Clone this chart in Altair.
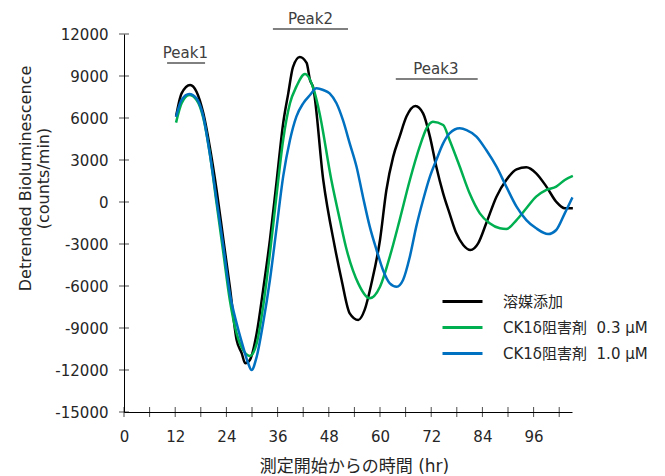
import altair as alt
import pandas as pd

# ---- data ----
t_black = [12.2, 13.5, 15.5, 17.0, 18.6, 20.1, 21.7, 23.3, 24.8, 26.4, 27.6, 28.4, 29.5, 31.1, 32.6, 34.2,
           35.8, 37.3, 38.5, 39.6, 41.2, 42.8, 43.6, 44.3, 46.7, 49.4, 51.0, 52.9, 54.9, 56.4, 58.0, 60.0,
           61.5, 63.1, 64.6, 66.2, 68.3, 70.1, 71.7, 73.2, 74.8, 76.3, 77.9, 79.5, 81.2, 83.0, 84.9, 87.3,
           89.6, 92.0, 94.3, 96.6, 99.0, 101.3, 103.3, 105.2]
v_black = [6100, 7760, 8360, 7880, 6330, 3950, 860, -2710, -6050, -9860, -10810, -11520, -11290, -9380, -6290, -2710,
           1570, 5620, 7760, 9640, 10360, 9930, 8710, 8220, 1570, -3190, -5570, -7950, -8430, -7710, -5810, -2710,
           860, 3240, 4670, 6100, 6860, 6330, 4670, 2520, 620, -810, -2240, -3070, -3430, -2950, -1520, 380,
           1570, 2330, 2480, 2050, 1100, 20, -450, -450]

t_green = [12.2, 13.5, 15.3, 17.0, 18.6, 20.1, 21.7, 23.3, 24.8, 26.4, 27.9, 29.5, 31.1, 32.6, 34.2, 35.8,
           37.3, 38.9, 40.4, 42.4, 44.7, 45.8, 48.6, 50.6, 52.2, 54.9, 57.6, 60.0, 62.3, 64.6, 67.0, 69.3,
           70.9, 72.4, 74.8, 76.3, 78.7, 81.0, 83.4, 85.7, 88.1, 89.6, 92.0, 94.3, 96.6, 99.0, 101.3, 103.3, 105.2]
v_green = [5670, 7050, 7640, 7290, 5980, 3480, -100, -3670, -7000, -9380, -10570, -11000, -10100, -7480, -3670, 620,
           4430, 7050, 8240, 9140, 7790, 6400, 1570, -1290, -3430, -5810, -6880, -6050, -3900, -1290, 1570, 3950,
           5260, 5740, 5500, 4430, 2520, 620, -810, -1520, -1880, -1930, -1290, -450, 380, 860, 1100, 1570, 1860]

t_blue = [12.2, 13.5, 15.3, 17.0, 18.6, 20.1, 21.7, 23.3, 24.8, 26.4, 27.9, 29.1, 29.9, 31.1, 32.6, 34.2,
          35.8, 37.3, 38.9, 40.4, 42.0, 43.6, 45.1, 46.7, 48.2, 49.8, 51.3, 52.9, 54.5, 56.0, 57.6, 59.2,
          60.7, 62.3, 63.9, 65.4, 67.0, 68.5, 70.1, 71.7, 73.2, 74.8, 76.3, 78.7, 80.3, 82.6, 84.9, 87.3,
          89.6, 92.0, 94.3, 96.6, 99.4, 101.3, 103.3, 105.1]
v_blue = [6090, 7290, 7710, 7400, 6100, 3480, 140, -3190, -6520, -8670, -10330, -11520, -12000, -11050, -8670, -5570,
          -1760, 1810, 4430, 6100, 7050, 7640, 8120, 8000, 7760, 7050, 5860, 4190, 2520, 380, -1760, -3430,
          -4860, -5810, -6050, -5570, -3900, -1760, 140, 1810, 3000, 4190, 4900, 5260, 5140, 4670, 3710, 2520,
          1100, -330, -1290, -1880, -2290, -2000, -810, 330]

series_names = ["溶媒添加", "CK1δ阻害剤\u00a0\u00a00.3 μM", "CK1δ阻害剤\u00a0\u00a01.0 μM"]
series_colors = ["#000000", "#00B050", "#0070C0"]

x_tick_values = list(range(0, 103, 6))
x_label_values = list(range(0, 97, 12))
y_tick_values = list(range(-15000, 12001, 3000))

peak_labels = ["Peak1", "Peak2", "Peak3"]
peak_x1 = [10.1, 34.9, 63.7]
peak_x2 = [19.0, 52.5, 82.9]
peak_line_y = [9930, 12360, 8790]
peak_text_x = [14.4, 43.7, 73.1]
peak_text_y = [10640, 13070, 9500]

# ---- tables ----
rows = []
for name, ts, vs in zip(series_names, [t_black, t_green, t_blue], [v_black, v_green, v_blue]):
    for t, v in zip(ts, vs):
        rows.append({"t": t, "v": v, "series": name})
df = pd.DataFrame(rows)
peaks = pd.DataFrame({"label": peak_labels, "x1": peak_x1, "x2": peak_x2, "ly": peak_line_y,
                      "tx": peak_text_x, "ty": peak_text_y})
xt = pd.DataFrame({"t": x_tick_values})
yt = pd.DataFrame({"v": y_tick_values})

FONT = "DejaVu Sans, Noto Sans CJK JP"
xscale = alt.Scale(domain=[0, 105], nice=False, zero=False)
yscale = alt.Scale(domain=[-15000, 12000], nice=False, zero=False)

xaxis = alt.Axis(values=x_label_values, title="測定開始からの時間 (hr)", titleX=230, titleY=54,
                 titleBaseline="middle", labelPadding=17, labelFlush=False)
yaxis = alt.Axis(values=y_tick_values, labelExpr="'' + datum.value",
                 title=["Detrended Bioluminescence", "(counts/min)"],
                 titleX=-99, titleY=144, titleBaseline="middle", titleAlign="center",
                 titleLineHeight=18, labelPadding=16, labelFlush=False)

lines = alt.Chart(df).mark_line(strokeWidth=2.5, interpolate="monotone").encode(
    x=alt.X("t:Q", scale=xscale, axis=xaxis),
    y=alt.Y("v:Q", scale=yscale, axis=yaxis),
    color=alt.Color("series:N", scale=alt.Scale(domain=series_names, range=series_colors),
                    legend=alt.Legend(title=None, orient="none", legendX=327, legendY=256,
                                      symbolType="M-2,0L2,0", symbolSize=400, symbolStrokeWidth=3,
                                      labelFont=FONT, labelFontSize=15, labelColor="#262626",
                                      labelOffset=29, rowPadding=6, padding=0)),
    order=alt.Order("t:Q"),
)

xticks = alt.Chart(xt).mark_tick(orient="vertical", size=10, thickness=1, color="black").encode(
    x=alt.X("t:Q", scale=xscale, axis=xaxis), y=alt.value(378))
yticks = alt.Chart(yt).mark_tick(orient="horizontal", size=10, thickness=1, color="black").encode(
    y=alt.Y("v:Q", scale=yscale, axis=yaxis), x=alt.value(0))

peak_rules = alt.Chart(peaks).mark_rule(color="#808080", strokeWidth=2).encode(
    x=alt.X("x1:Q", scale=xscale, axis=xaxis), x2="x2:Q", y=alt.Y("ly:Q", scale=yscale, axis=yaxis))
peak_text = alt.Chart(peaks).mark_text(font=FONT, fontSize=15, color="#404040", baseline="middle").encode(
    x=alt.X("tx:Q", scale=xscale, axis=xaxis), y=alt.Y("ty:Q", scale=yscale, axis=yaxis), text="label:N")

chart = alt.layer(lines, xticks, yticks, peak_rules, peak_text).properties(
    width=448, height=378,
    autosize=alt.AutoSizeParams(type="none"),
    padding={"left": 116, "top": 26, "right": 85, "bottom": 64},
).configure_view(stroke=None).configure_axis(
    ticks=False, tickSize=0, grid=False, domainColor="black", domainWidth=1,
    labelFont=FONT, labelFontSize=15, labelColor="#262626",
    titleFont=FONT, titleFontSize=16, titleColor="#262626", titleFontWeight="normal",
).configure_axisX(titleFontSize=17)

chart.save("out.html", embed_options={"renderer": "svg", "actions": False})
